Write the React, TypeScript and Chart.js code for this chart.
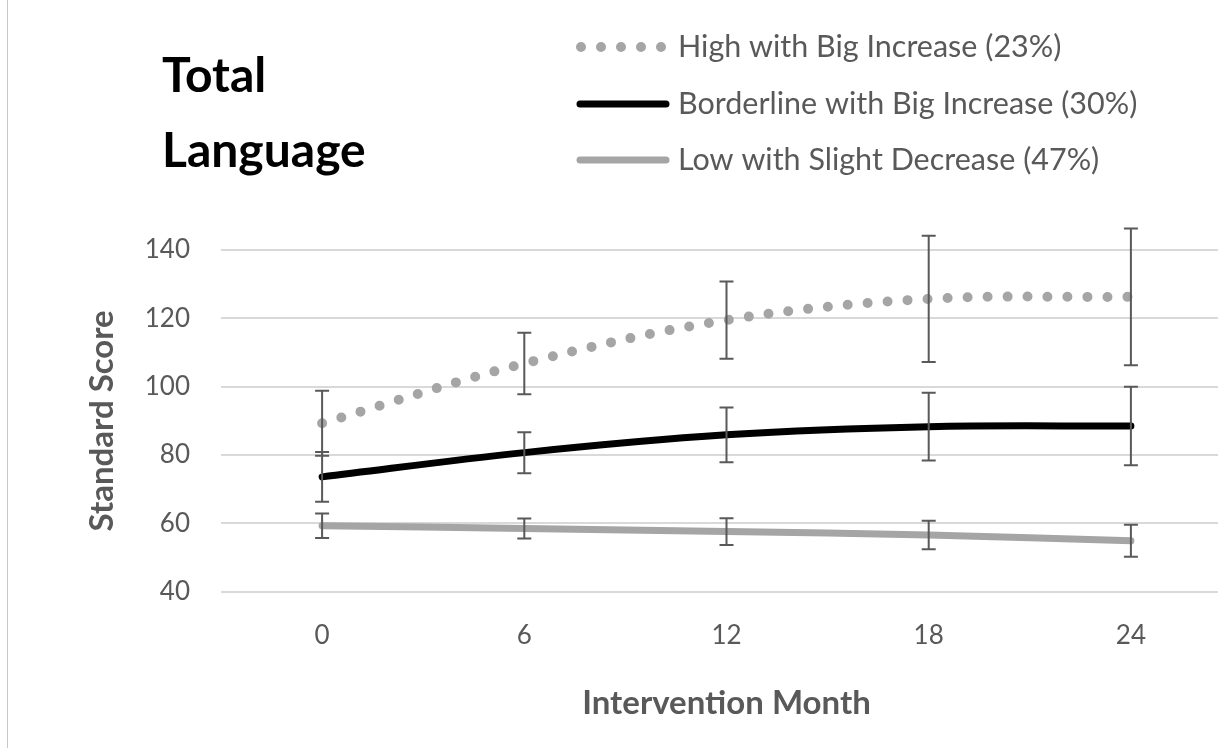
import React, { useEffect, useRef } from "react";
import { Chart, registerables } from "chart.js";

Chart.register(...registerables);

// ---------- data ----------
const months = ["0", "6", "12", "18", "24"];
const yTicks = [40, 60, 80, 100, 120, 140];

const highLabel = "High with Big Increase (23%)";
const highValues = [89.3, 106.8, 119.5, 125.7, 126.3];
const highErrors = [9.5, 9.0, 11.3, 18.5, 20.0];

const borderLabel = "Borderline with Big Increase (30%)";
const borderValues = [73.6, 80.7, 85.9, 88.3, 88.5];
const borderErrors = [7.3, 6.0, 8.0, 9.9, 11.5];

const lowLabel = "Low with Slight Decrease (47%)";
const lowValues = [59.3, 58.5, 57.6, 56.6, 54.9];
const lowErrors = [3.6, 2.9, 3.9, 4.2, 4.7];

const chartTitle = ["Total", "Language"];
const xTitle = "Intervention Month";
const yTitle = "Standard Score";

// ---------- styles ----------
const FONT = "Lato, 'Open Sans', 'DejaVu Sans', sans-serif";
const TEXT_GRAY = "#595959";
const LIGHT = "#A5A5A5";

const errorBarPlugin = {
  id: "errorBars",
  afterDatasetsDraw(chart: any) {
    const { ctx } = chart;
    const xs = chart.scales.x;
    const ys = chart.scales.y;
    ctx.save();
    ctx.strokeStyle = TEXT_GRAY;
    ctx.lineWidth = 2;
    ctx.lineCap = "butt";
    chart.data.datasets.forEach((ds: any) => {
      const errs: number[] = ds.errors || [];
      ds.data.forEach((v: number, i: number) => {
        const e = errs[i];
        if (e == null) return;
        const px = xs.getPixelForValue(i);
        const top = ys.getPixelForValue(v + e);
        const bot = ys.getPixelForValue(v - e);
        ctx.beginPath();
        ctx.moveTo(px, top);
        ctx.lineTo(px, bot);
        ctx.moveTo(px - 7, top);
        ctx.lineTo(px + 7, top);
        ctx.moveTo(px - 7, bot);
        ctx.lineTo(px + 7, bot);
        ctx.stroke();
      });
    });
    ctx.restore();
  },
};

const headerPlugin = {
  id: "header",
  afterDraw(chart: any) {
    const { ctx } = chart;
    ctx.save();
    // title
    ctx.fillStyle = "#000000";
    ctx.font = `bold 48px ${FONT}`;
    ctx.textAlign = "left";
    ctx.textBaseline = "alphabetic";
    chartTitle.forEach((t, i) => ctx.fillText(t, 162, 92 + i * 75));

    // legend
    const rowY = [47, 104, 160];
    chart.data.datasets.forEach((ds: any, i: number) => {
      const y = rowY[i];
      ctx.beginPath();
      ctx.strokeStyle = ds.borderColor;
      ctx.lineWidth = ds.borderWidth;
      ctx.lineCap = "round";
      ctx.setLineDash(ds.borderDash || []);
      if (ds.borderDash && ds.borderDash.length) {
        ctx.moveTo(581, y);
        ctx.lineTo(668, y);
      } else {
        ctx.moveTo(580, y);
        ctx.lineTo(666, y);
      }
      ctx.stroke();
      ctx.setLineDash([]);
      ctx.fillStyle = TEXT_GRAY;
      ctx.font = `30.5px ${FONT}`;
      ctx.textBaseline = "middle";
      ctx.fillText(ds.label, 678, y);
    });
    ctx.restore();
  },
};

export default function App() {
  const canvasRef = useRef<HTMLCanvasElement | null>(null);

  useEffect(() => {
    if (!canvasRef.current) return;
    const chart = new Chart(canvasRef.current, {
      type: "line",
      data: {
        labels: months,
        datasets: [
          {
            label: highLabel,
            data: highValues,
            errors: highErrors,
            borderColor: LIGHT,
            borderWidth: 10,
            borderDash: [0, 20],
            borderCapStyle: "round",
            pointRadius: 0,
            tension: 0.35,
          } as any,
          {
            label: borderLabel,
            data: borderValues,
            errors: borderErrors,
            borderColor: "#000000",
            borderWidth: 7,
            borderCapStyle: "round",
            borderJoinStyle: "round",
            pointRadius: 0,
            tension: 0.35,
          } as any,
          {
            label: lowLabel,
            data: lowValues,
            errors: lowErrors,
            borderColor: LIGHT,
            borderWidth: 7,
            borderCapStyle: "round",
            borderJoinStyle: "round",
            pointRadius: 0,
            tension: 0.35,
          } as any,
        ],
      },
      options: {
        animation: false,
        responsive: true,
        maintainAspectRatio: false,
        layout: { padding: { top: 250, right: 8, bottom: 0, left: 0 } },
        plugins: {
          legend: { display: false },
          title: { display: false },
          tooltip: { enabled: false },
        },
        scales: {
          x: {
            offset: true,
            grid: { display: false },
            border: { display: false },
            ticks: {
              color: TEXT_GRAY,
              font: { family: FONT, size: 26 },
              padding: 20,
            },
            title: {
              display: true,
              text: xTitle,
              color: TEXT_GRAY,
              font: { family: FONT, size: 33, weight: "bold" },
              padding: { top: 0, bottom: 25 },
            },
            afterFit: (s: any) => {
              s.height = 156.3;
            },
          },
          y: {
            min: 40,
            max: 140,
            grid: { color: "#D9D9D9", lineWidth: 2, drawTicks: false },
            border: { display: false },
            afterBuildTicks: (s: any) => {
              s.ticks = yTicks.map((v) => ({ value: v }));
            },
            ticks: {
              color: TEXT_GRAY,
              font: { family: FONT, size: 26 },
              padding: 31,
            },
            title: {
              display: true,
              text: yTitle,
              color: TEXT_GRAY,
              font: { family: FONT, size: 33, weight: "bold" },
              padding: { top: 83, bottom: 0 },
            },
            afterFit: (s: any) => {
              s.width = 221;
            },
          },
        },
      },
      plugins: [errorBarPlugin, headerPlugin],
    });
    return () => chart.destroy();
  }, []);

  return (
    <div
      style={{
        position: "fixed",
        left: 0,
        top: 0,
        width: 1218,
        height: 748,
        overflow: "hidden",
        background: "#ffffff",
      }}
    >
      <div style={{ position: "absolute", left: 0, top: 0, width: 1240, height: 748 }}>
        <canvas ref={canvasRef} />
      </div>
      <div
        style={{
          position: "absolute",
          left: 7,
          top: 0,
          width: 1,
          height: 748,
          background: "#C8C8C8",
        }}
      />
    </div>
  );
}
